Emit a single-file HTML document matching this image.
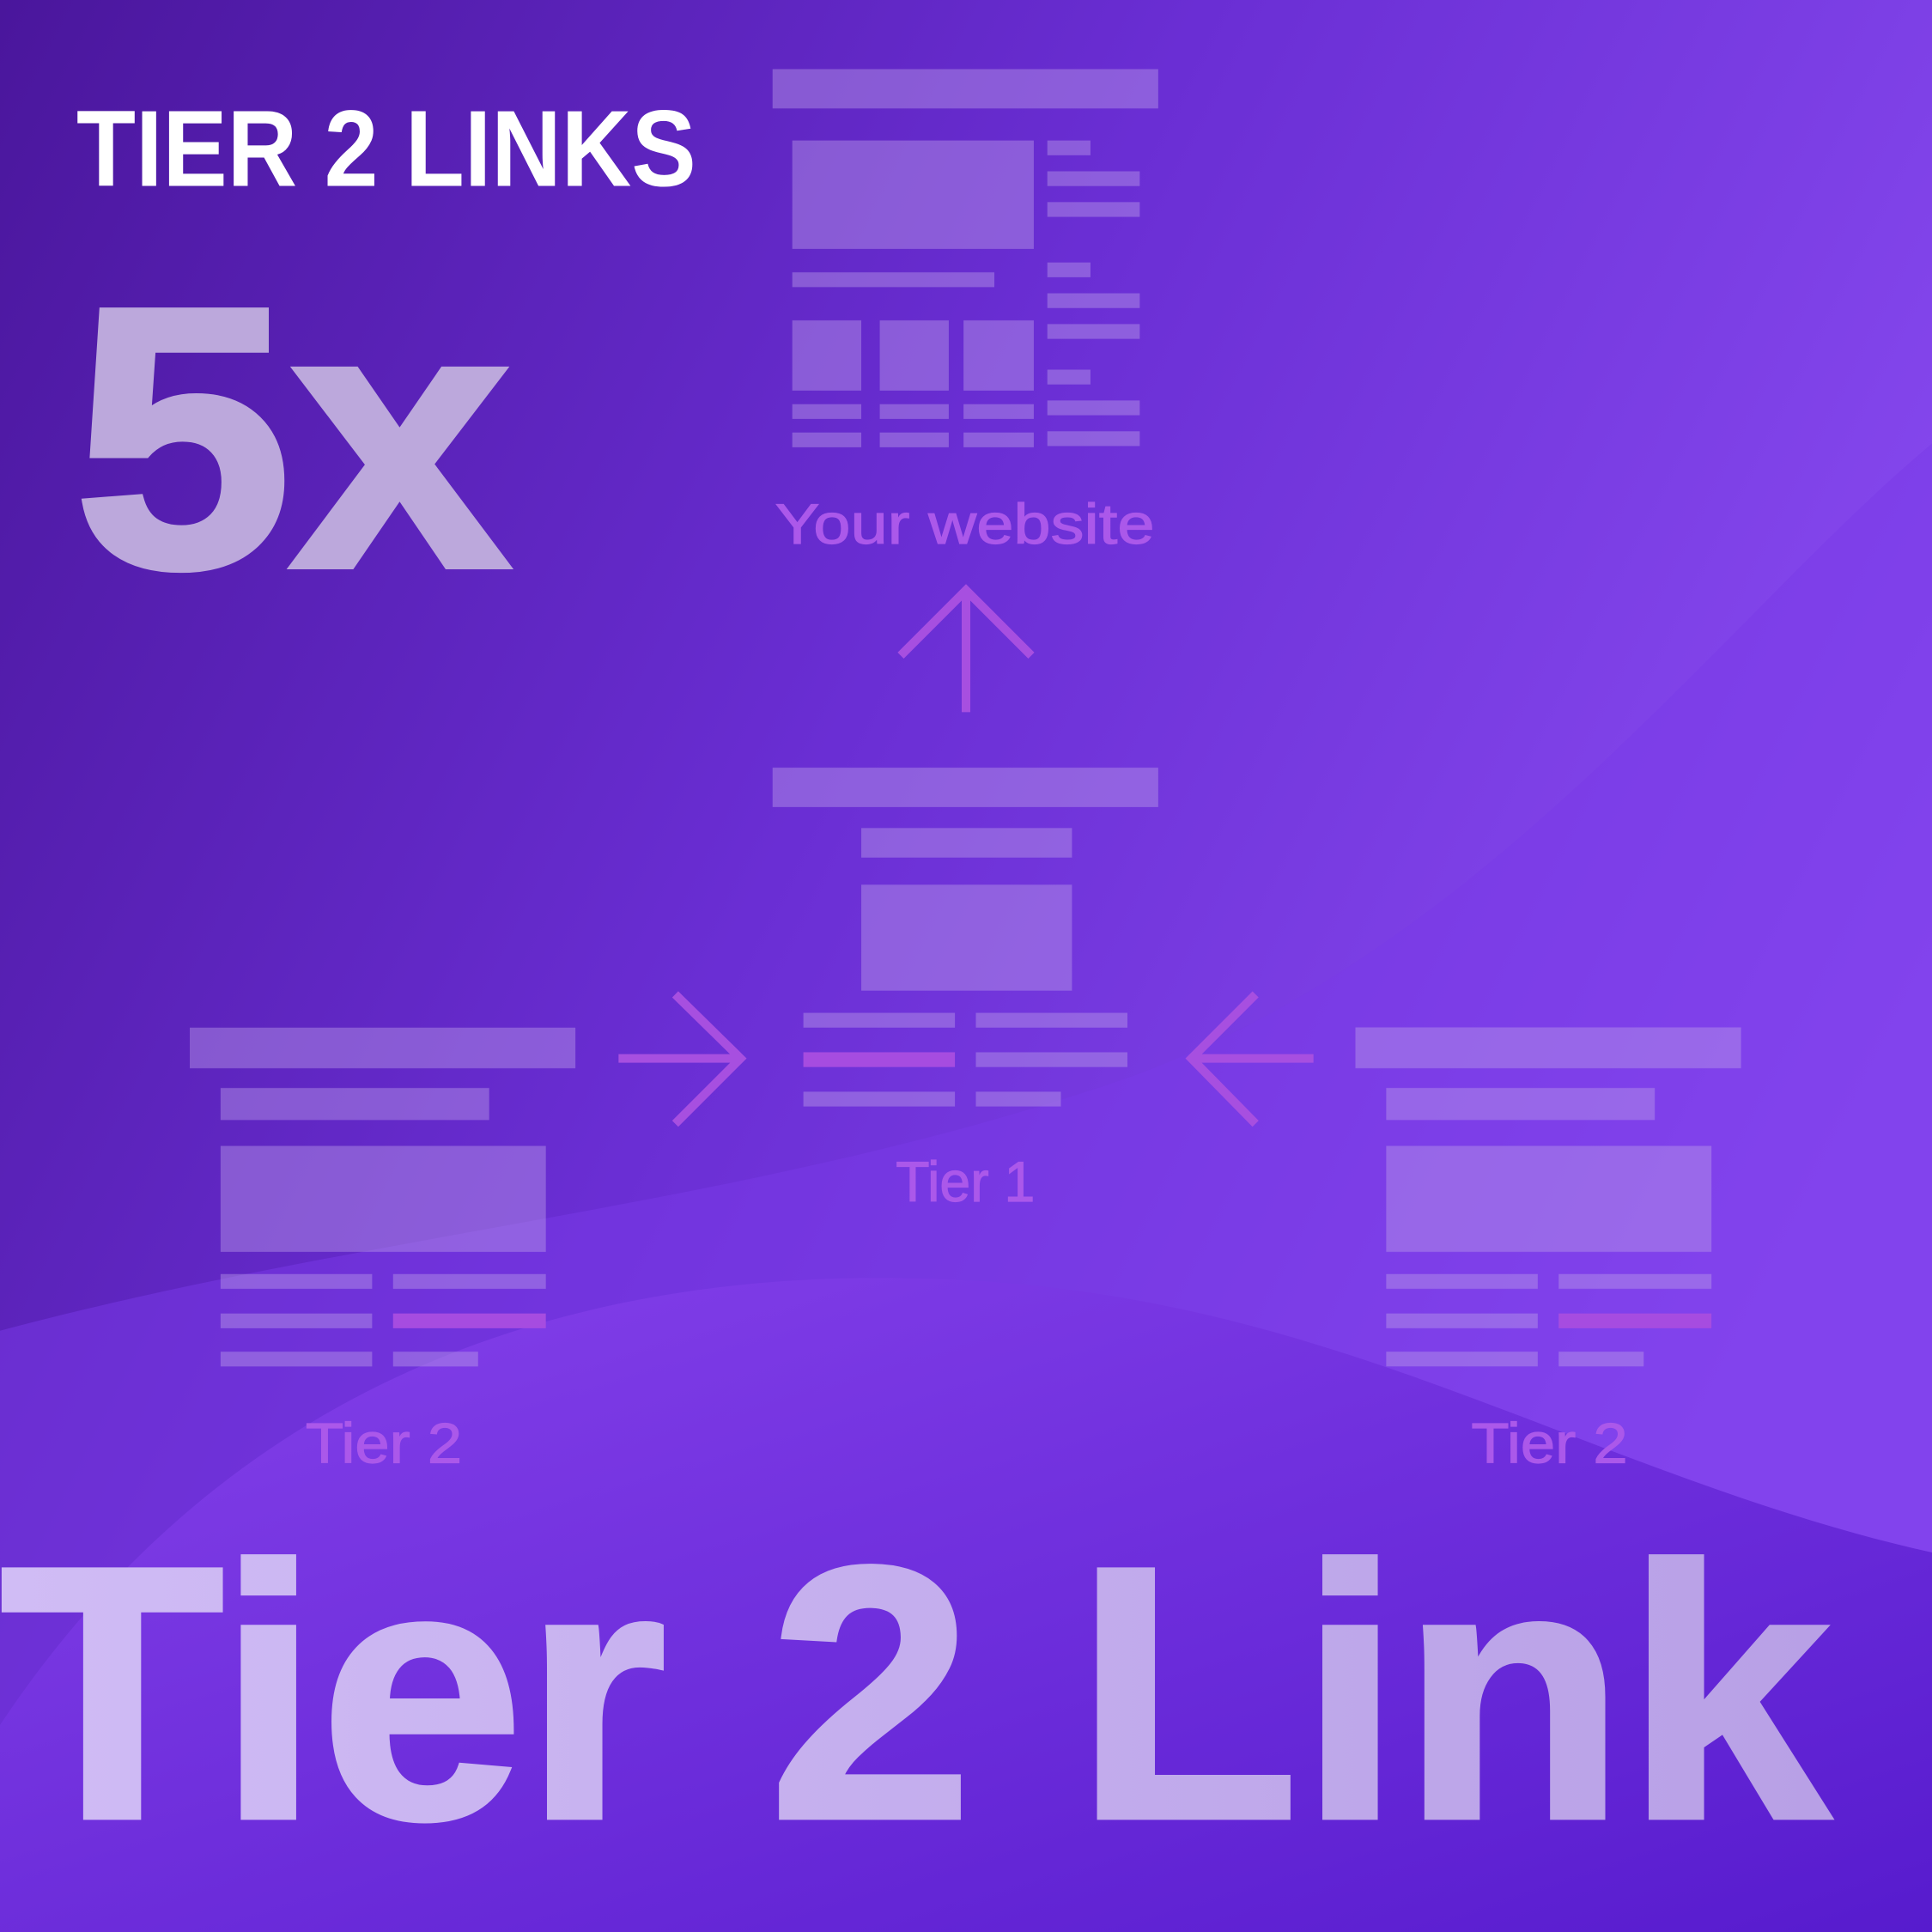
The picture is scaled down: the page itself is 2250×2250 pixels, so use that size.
<!DOCTYPE html>
<html><head><meta charset="utf-8"><style>html,body{margin:0;padding:0;background:#5a24c0}svg{display:block}</style></head>
<body>
<svg width="2250" height="2250" viewBox="0 0 1568 1568" xmlns="http://www.w3.org/2000/svg">
<defs>
<linearGradient id="bg" x1="0" y1="0" x2="1" y2="0.5">
<stop offset="0" stop-color="#4a169c"/><stop offset="0.5" stop-color="#6a2ed4"/><stop offset="1" stop-color="#8a4cf2"/>
</linearGradient>
<linearGradient id="bg2" x1="0" y1="0" x2="1" y2="1">
<stop offset="0" stop-color="#8a45ee"/><stop offset="1" stop-color="#4f14c8"/>
</linearGradient>
<linearGradient id="txt" x1="0" y1="0" x2="1" y2="0">
<stop offset="0" stop-color="#d0bcf5"/><stop offset="1" stop-color="#b8a0e6"/>
</linearGradient>
</defs>
<rect width="1568" height="1568" fill="url(#bg)"/>
<path d="M0 1080 C300 1000 600 980 900 880 C1200 780 1400 500 1568 360 L1568 1568 L0 1568Z" fill="#7a3ae8" opacity="0.5"/>
<path d="M0 1400 C200 1100 500 1020 800 1040 C1100 1060 1300 1200 1568 1260 L1568 1568 L0 1568Z" fill="url(#bg2)" opacity="0.85"/>
<g font-family="Liberation Sans, sans-serif" font-weight="bold">
<text x="62" y="151" font-size="88" fill="#fff" textLength="503" lengthAdjust="spacingAndGlyphs">TIER 2 LINKS</text>
<text x="60" y="459" font-size="300" fill="#bca8dc" stroke="#bca8dc" stroke-width="6" textLength="353" lengthAdjust="spacingAndGlyphs">5x</text>
<text x="0" y="1475" font-size="292" fill="url(#txt)" stroke="url(#txt)" stroke-width="4" textLength="1485" lengthAdjust="spacingAndGlyphs">Tier 2 Link</text>
</g>
<g fill="#b99be8" opacity="0.45">
<rect x="627" y="56" width="313" height="32"/>
<rect x="643" y="114" width="196" height="88"/>
<rect x="850" y="114" width="35" height="12"/><rect x="850" y="139" width="75" height="12"/><rect x="850" y="164" width="75" height="12"/>
<rect x="850" y="213" width="35" height="12"/><rect x="850" y="238" width="75" height="12"/><rect x="850" y="263" width="75" height="12"/>
<rect x="850" y="300" width="35" height="12"/><rect x="850" y="325" width="75" height="12"/><rect x="850" y="350" width="75" height="12"/>
<rect x="643" y="221" width="164" height="12"/>
<rect x="643" y="260" width="56" height="57"/><rect x="714" y="260" width="56" height="57"/><rect x="782" y="260" width="57" height="57"/>
<rect x="643" y="328" width="56" height="12"/><rect x="714" y="328" width="56" height="12"/><rect x="782" y="328" width="57" height="12"/>
<rect x="643" y="351" width="56" height="12"/><rect x="714" y="351" width="56" height="12"/><rect x="782" y="351" width="57" height="12"/>
<rect x="627" y="623" width="313" height="32"/>
<rect x="699" y="672" width="171" height="24"/>
<rect x="699" y="718" width="171" height="86"/>
<rect x="652" y="822" width="123" height="12"/><rect x="792" y="822" width="123" height="12"/>
<rect x="792" y="854" width="123" height="12"/>
<rect x="652" y="886" width="123" height="12"/><rect x="792" y="886" width="69" height="12"/>
<g id="t2">
<rect x="154" y="834" width="313" height="33"/>
<rect x="179" y="883" width="218" height="26"/>
<rect x="179" y="930" width="264" height="86"/>
<rect x="179" y="1034" width="123" height="12"/><rect x="319" y="1034" width="124" height="12"/>
<rect x="179" y="1066" width="123" height="12"/>
<rect x="179" y="1097" width="123" height="12"/><rect x="319" y="1097" width="69" height="12"/>
</g>
<use href="#t2" x="946"/>
</g>
<g fill="#a64ce0">
<rect x="652" y="854" width="123" height="12"/>
<rect x="319" y="1066" width="124" height="12"/>
<rect x="1265" y="1066" width="124" height="12"/>
</g>
<g stroke="#a74fe0" stroke-width="7" fill="none">
<path d="M784 578 V480 M731 532 L784 479 L837 532"/>
<path d="M502 859 H601 M548 807 L601 859 L548 912"/>
<path d="M1066 859 H967 M1019 807 L967 859 L1019 912"/>
</g>
<g font-family="Liberation Sans, sans-serif" font-size="46" fill="#ab58ea" stroke="#ab58ea" stroke-width="0.8">
<text x="629" y="441" textLength="308" lengthAdjust="spacingAndGlyphs">Your website</text>
<text x="727" y="975" textLength="113" lengthAdjust="spacingAndGlyphs">Tier 1</text>
<text x="248" y="1187" textLength="127" lengthAdjust="spacingAndGlyphs">Tier 2</text>
<text x="1194" y="1187" textLength="127" lengthAdjust="spacingAndGlyphs">Tier 2</text>
</g>
</svg>
</body></html>
